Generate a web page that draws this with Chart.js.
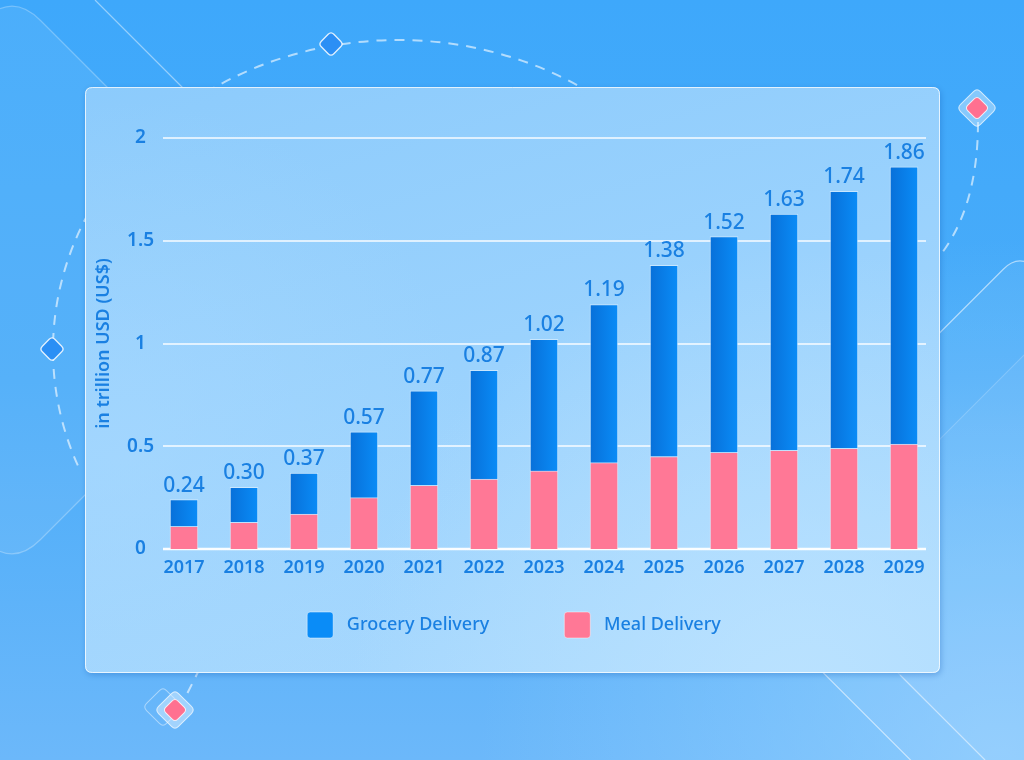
<!DOCTYPE html>
<html>
<head>
<meta charset="utf-8">
<script src="https://cdn.jsdelivr.net/npm/chart.js@4/dist/chart.umd.min.js"></script>
<style>
  html, body { margin: 0; padding: 0; overflow: hidden; background: #3fa9fb; }
  #c { display: block; }
</style>
</head>
<body>
<canvas id="c" width="1024" height="760"></canvas>
<script>
// ---- data ----
const years = ['2017','2018','2019','2020','2021','2022','2023','2024','2025','2026','2027','2028','2029'];
const totals = [0.24, 0.30, 0.37, 0.57, 0.77, 0.87, 1.02, 1.19, 1.38, 1.52, 1.63, 1.74, 1.86];
const mealDelivery = [0.11, 0.13, 0.17, 0.25, 0.31, 0.34, 0.38, 0.42, 0.45, 0.47, 0.48, 0.49, 0.51];
const groceryDelivery = [0.13, 0.17, 0.20, 0.32, 0.46, 0.53, 0.64, 0.77, 0.93, 1.05, 1.15, 1.25, 1.35];
const yTicks = [0, 0.5, 1, 1.5, 2];
const yTitle = 'in trillion USD (US$)';
const seriesNames = ['Meal Delivery', 'Grocery Delivery'];

const TEXT = '#1a80e2';
const FONT = '"Noto Sans", "Open Sans", sans-serif';

function roundRectPath(ctx, x, y, w, h, r) {
  ctx.beginPath();
  ctx.moveTo(x + r, y);
  ctx.lineTo(x + w - r, y);
  ctx.quadraticCurveTo(x + w, y, x + w, y + r);
  ctx.lineTo(x + w, y + h - r);
  ctx.quadraticCurveTo(x + w, y + h, x + w - r, y + h);
  ctx.lineTo(x + r, y + h);
  ctx.quadraticCurveTo(x, y + h, x, y + h - r);
  ctx.lineTo(x, y + r);
  ctx.quadraticCurveTo(x, y, x + r, y);
  ctx.closePath();
}
function diamond(ctx, cx, cy, diag, r, fill, stroke, lw) {
  const s = diag / Math.SQRT2;
  ctx.save();
  ctx.translate(cx, cy);
  ctx.rotate(Math.PI / 4);
  roundRectPath(ctx, -s / 2, -s / 2, s, s, r);
  if (fill) { ctx.fillStyle = fill; ctx.fill(); }
  if (stroke) { ctx.strokeStyle = stroke; ctx.lineWidth = lw || 1; ctx.stroke(); }
  ctx.restore();
}
function barFill(c1, c2, solid) {
  return (ctx) => {
    const xs = ctx.chart.scales && ctx.chart.scales.x;
    if (ctx.dataIndex === undefined || !xs) return solid;
    const cx = xs.getPixelForValue(ctx.dataIndex);
    if (!isFinite(cx)) return solid;
    const g = ctx.chart.ctx.createLinearGradient(cx - 14, 0, cx + 14, 0);
    g.addColorStop(0, c1);
    g.addColorStop(1, c2);
    return g;
  };
}

const backgroundPlugin = {
  id: 'bg',
  beforeDraw(chart) {
    const ctx = chart.ctx;
    const W = chart.width, H = chart.height;
    ctx.save();
    let g = ctx.createLinearGradient(0, 0, 0, H);
    g.addColorStop(0, '#3ea8fb');
    g.addColorStop(0.5, '#4aacf9');
    g.addColorStop(1, '#6cb8fa');
    ctx.fillStyle = g;
    ctx.fillRect(0, 0, W, H);
    let rg = ctx.createRadialGradient(1000, 760, 10, 1000, 760, 520);
    rg.addColorStop(0, 'rgba(150,210,255,0.7)');
    rg.addColorStop(1, 'rgba(150,210,255,0)');
    ctx.fillStyle = rg;
    ctx.fillRect(0, 0, W, H);

    // left rotated rounded square
    diamond(ctx, 12, 280, 576, 40, 'rgba(255,255,255,0.07)', 'rgba(255,255,255,0.28)', 1.2);
    // right rotated rounded squares
    diamond(ctx, 1020, 561, 617, 24, 'rgba(255,255,255,0.05)', 'rgba(255,255,255,0.55)', 1.2);
    diamond(ctx, 1102, 577, 600, 24, 'rgba(255,255,255,0.05)', 'rgba(255,255,255,0.2)', 1);

    // straight lines
    ctx.strokeStyle = 'rgba(255,255,255,0.45)';
    ctx.lineWidth = 1.2;
    ctx.beginPath(); ctx.moveTo(95, 0); ctx.lineTo(200, 105); ctx.stroke();
    ctx.strokeStyle = 'rgba(255,255,255,0.4)';
    ctx.beginPath(); ctx.moveTo(900, 675); ctx.lineTo(985, 760); ctx.stroke();

    // dashed arcs
    ctx.setLineDash([10, 8]);
    ctx.strokeStyle = 'rgba(255,255,255,0.6)';
    ctx.lineWidth = 2;
    ctx.beginPath();
    ctx.ellipse(398, 350, 345, 310, 0, 2.76, 5.4);
    ctx.stroke();
    ctx.beginPath();
    ctx.moveTo(978, 122);
    ctx.quadraticCurveTo(978, 215, 932, 265);
    ctx.stroke();
    ctx.beginPath();
    ctx.moveTo(200, 668);
    ctx.lineTo(184, 700);
    ctx.stroke();
    ctx.setLineDash([]);

    // panel
    ctx.save();
    ctx.shadowColor = 'rgba(20,90,180,0.35)';
    ctx.shadowBlur = 6;
    ctx.shadowOffsetX = 1;
    ctx.shadowOffsetY = 2;
    roundRectPath(ctx, 85, 87, 855, 586, 7);
    let pg = ctx.createLinearGradient(85, 87, 300, 800);
    pg.addColorStop(0, '#8ccbfc');
    pg.addColorStop(1, '#a9d9fe');
    ctx.fillStyle = pg;
    ctx.fill();
    ctx.restore();
    ctx.save();
    roundRectPath(ctx, 85, 87, 855, 586, 7);
    ctx.clip();
    let pr = ctx.createRadialGradient(800, 700, 10, 800, 700, 450);
    pr.addColorStop(0, 'rgba(190,228,255,0.8)');
    pr.addColorStop(1, 'rgba(190,228,255,0)');
    ctx.fillStyle = pr;
    ctx.fillRect(85, 87, 855, 586);
    let pl = ctx.createRadialGradient(120, 450, 10, 120, 450, 350);
    pl.addColorStop(0, 'rgba(170,218,255,0.5)');
    pl.addColorStop(1, 'rgba(170,218,255,0)');
    ctx.fillStyle = pl;
    ctx.fillRect(85, 87, 855, 586);
    ctx.restore();
    roundRectPath(ctx, 85.5, 87.5, 854, 585, 7);
    ctx.strokeStyle = 'rgba(255,255,255,0.75)';
    ctx.lineWidth = 1;
    ctx.stroke();

    // diamonds
    diamond(ctx, 331, 44, 25, 4, '#2b8ff5', 'rgba(255,255,255,0.85)', 1.3);
    diamond(ctx, 52, 349, 25, 4, '#2b8ff5', 'rgba(255,255,255,0.85)', 1.3);
    diamond(ctx, 977, 108, 40, 5, 'rgba(220,240,255,0.45)', 'rgba(255,255,255,0.7)', 1);
    diamond(ctx, 977, 108, 24, 4, '#ff7090', 'rgba(255,255,255,0.8)', 1);
    diamond(ctx, 163, 707, 40, 5, null, 'rgba(255,255,255,0.45)', 1);
    diamond(ctx, 175, 710, 40, 5, 'rgba(220,240,255,0.5)', 'rgba(255,255,255,0.7)', 1);
    diamond(ctx, 175, 710, 24, 4, '#ff7090', 'rgba(255,255,255,0.8)', 1);
    ctx.restore();

    // place legend row (box top at 612) while keeping the compact layout height
    if (chart.legend && !chart.legend._placed) {
      const pad = chart.legend.options.labels.padding;
      chart.legend.top = 612 - pad;
      chart.legend.left += 4;
      chart.legend.right += 4;
      chart.legend._placed = true;
    }
  }
};

const gridPlugin = {
  id: 'customGrid',
  beforeDatasetsDraw(chart) {
    const ctx = chart.ctx;
    const y = chart.scales.y;
    const a = chart.chartArea;
    ctx.save();
    yTicks.forEach(v => {
      const py = Math.round(y.getPixelForValue(v));
      ctx.strokeStyle = v === 0 ? 'rgba(255,255,255,0.95)' : 'rgba(255,255,255,0.7)';
      ctx.lineWidth = v === 0 ? 2.5 : 2;
      ctx.beginPath();
      ctx.moveTo(a.left + 9, py);
      ctx.lineTo(a.right - 8, py);
      ctx.stroke();
    });
    ctx.restore();
  }
};

const totalsPlugin = {
  id: 'totals',
  afterDatasetsDraw(chart) {
    const ctx = chart.ctx;
    const meta = chart.getDatasetMeta(1);
    ctx.save();
    ctx.font = '500 21px ' + FONT;
    ctx.fillStyle = TEXT;
    ctx.textAlign = 'center';
    ctx.textBaseline = 'alphabetic';
    meta.data.forEach((bar, i) => {
      ctx.fillText(totals[i].toFixed(2), bar.x, bar.y - 8);
    });
    ctx.restore();
  }
};

new Chart(document.getElementById('c'), {
  type: 'bar',
  data: {
    labels: years,
    datasets: [
      {
        label: seriesNames[0],
        data: mealDelivery,
        backgroundColor: '#ff7896',
        borderColor: 'rgba(255,255,255,0.45)',
        borderWidth: 1,
        barThickness: 28
      },
      {
        label: seriesNames[1],
        data: groceryDelivery,
        backgroundColor: barFill('#0870d9', '#0a8cf7', '#0a80ed'),
        borderColor: 'rgba(255,255,255,0.45)',
        borderWidth: 1,
        barThickness: 28
      }
    ]
  },
  options: {
    responsive: false,
    animation: false,
    devicePixelRatio: 1,
    layout: { padding: { left: 86, right: 90, top: 138, bottom: 113 } },
    scales: {
      x: {
        stacked: true,
        grid: { display: false, drawTicks: false },
        border: { display: false },
        ticks: { color: TEXT, font: { family: FONT, size: 18, weight: '600' }, padding: 8, maxRotation: 0 },
        afterFit(s) { s.height = 52; }
      },
      y: {
        stacked: true,
        min: 0,
        max: 2,
        grid: { display: false, drawTicks: false },
        border: { display: false },
        afterBuildTicks(s) { s.ticks = yTicks.map(v => ({ value: v })); },
        ticks: {
          color: TEXT,
          font: { family: FONT, size: 19, weight: '600' },
          padding: 0,
          crossAlign: 'center',
          callback: v => String(v)
        },
        title: {
          display: true,
          text: yTitle,
          color: TEXT,
          font: { family: FONT, size: 18, weight: '600' },
          padding: { top: 7, bottom: 0 }
        },
        afterFit(s) { s.width = 68; }
      }
    },
    plugins: {
      legend: {
        position: 'bottom',
        reverse: true,
        maxHeight: 46,
        labels: {
          color: TEXT,
          font: { family: FONT, size: 18, weight: '500' },
          boxWidth: 26,
          boxHeight: 26,
          borderRadius: 3,
          useBorderRadius: true,
          padding: 75,
          generateLabels(chart) {
            const items = Chart.defaults.plugins.legend.labels.generateLabels(chart);
            items.forEach(it => { it.text = ' ' + it.text; });
            return items;
          }
        }
      },
      tooltip: { enabled: false }
    }
  },
  plugins: [backgroundPlugin, gridPlugin, totalsPlugin]
});
</script>
</body>
</html>
